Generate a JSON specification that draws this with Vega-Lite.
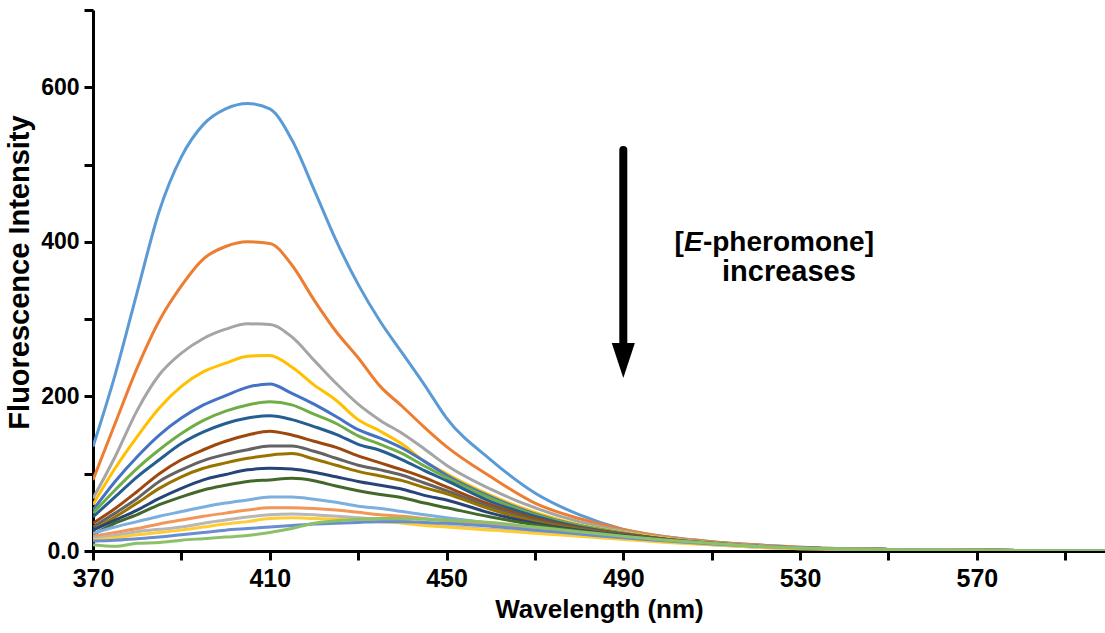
{
"$schema": "https://vega.github.io/schema/vega-lite/v6.json",
"width": 1012, "height": 541,
"autosize": {"type": "none"},
"padding": {"left": 93, "top": 10, "right": 0, "bottom": 82},
"background": "white",
"config": {"view": {"stroke": null}, "font": "Liberation Sans"},
"data": {"values": [
{"s":"s01","x":370,"y":135},{"s":"s01","x":375,"y":228},{"s":"s01","x":380,"y":335},{"s":"s01","x":385,"y":440},{"s":"s01","x":390,"y":510},{"s":"s01","x":395,"y":552},{"s":"s01","x":400,"y":572},{"s":"s01","x":405,"y":579},{"s":"s01","x":410,"y":572},{"s":"s01","x":415,"y":532},{"s":"s01","x":420,"y":468},{"s":"s01","x":425,"y":402},{"s":"s01","x":430,"y":345},{"s":"s01","x":435,"y":297},{"s":"s01","x":440,"y":256},{"s":"s01","x":445,"y":215},{"s":"s01","x":450,"y":172},{"s":"s01","x":460,"y":118},{"s":"s01","x":470,"y":75},{"s":"s01","x":480,"y":47},{"s":"s01","x":490,"y":28},{"s":"s01","x":500,"y":18},{"s":"s01","x":510,"y":12},{"s":"s01","x":520,"y":8},{"s":"s01","x":530,"y":5},{"s":"s01","x":550,"y":2},{"s":"s01","x":570,"y":1},{"s":"s01","x":600,"y":0},
{"s":"s02","x":370,"y":92},{"s":"s02","x":375,"y":165},{"s":"s02","x":380,"y":237},{"s":"s02","x":385,"y":298},{"s":"s02","x":390,"y":343},{"s":"s02","x":395,"y":378},{"s":"s02","x":400,"y":394},{"s":"s02","x":405,"y":400},{"s":"s02","x":410,"y":398},{"s":"s02","x":415,"y":370},{"s":"s02","x":420,"y":325},{"s":"s02","x":425,"y":284},{"s":"s02","x":430,"y":250},{"s":"s02","x":435,"y":213},{"s":"s02","x":440,"y":187},{"s":"s02","x":445,"y":160},{"s":"s02","x":450,"y":135},{"s":"s02","x":460,"y":96},{"s":"s02","x":470,"y":62},{"s":"s02","x":480,"y":42},{"s":"s02","x":490,"y":28},{"s":"s02","x":500,"y":18},{"s":"s02","x":510,"y":12},{"s":"s02","x":520,"y":8},{"s":"s02","x":530,"y":5},{"s":"s02","x":550,"y":2},{"s":"s02","x":570,"y":1},{"s":"s02","x":600,"y":0},
{"s":"s03","x":370,"y":68},{"s":"s03","x":375,"y":122},{"s":"s03","x":380,"y":182},{"s":"s03","x":385,"y":228},{"s":"s03","x":390,"y":256},{"s":"s03","x":395,"y":275},{"s":"s03","x":400,"y":287},{"s":"s03","x":405,"y":294},{"s":"s03","x":410,"y":293},{"s":"s03","x":415,"y":277},{"s":"s03","x":420,"y":247},{"s":"s03","x":425,"y":217},{"s":"s03","x":430,"y":190},{"s":"s03","x":435,"y":169},{"s":"s03","x":440,"y":152},{"s":"s03","x":445,"y":132},{"s":"s03","x":450,"y":111},{"s":"s03","x":460,"y":80},{"s":"s03","x":470,"y":56},{"s":"s03","x":480,"y":38},{"s":"s03","x":490,"y":26},{"s":"s03","x":500,"y":17},{"s":"s03","x":510,"y":11},{"s":"s03","x":520,"y":7},{"s":"s03","x":530,"y":4},{"s":"s03","x":550,"y":2},{"s":"s03","x":570,"y":1},{"s":"s03","x":600,"y":0},
{"s":"s04","x":370,"y":60},{"s":"s04","x":375,"y":107},{"s":"s04","x":380,"y":148},{"s":"s04","x":385,"y":185},{"s":"s04","x":390,"y":213},{"s":"s04","x":395,"y":232},{"s":"s04","x":400,"y":243},{"s":"s04","x":405,"y":252},{"s":"s04","x":410,"y":253},{"s":"s04","x":415,"y":238},{"s":"s04","x":420,"y":215},{"s":"s04","x":425,"y":195},{"s":"s04","x":430,"y":170},{"s":"s04","x":435,"y":155},{"s":"s04","x":440,"y":138},{"s":"s04","x":445,"y":116},{"s":"s04","x":450,"y":100},{"s":"s04","x":460,"y":72},{"s":"s04","x":470,"y":50},{"s":"s04","x":480,"y":34},{"s":"s04","x":490,"y":24},{"s":"s04","x":500,"y":16},{"s":"s04","x":510,"y":10},{"s":"s04","x":520,"y":6},{"s":"s04","x":530,"y":4},{"s":"s04","x":550,"y":2},{"s":"s04","x":570,"y":1},{"s":"s04","x":600,"y":0},
{"s":"s05","x":370,"y":53},{"s":"s05","x":375,"y":90},{"s":"s05","x":380,"y":122},{"s":"s05","x":385,"y":150},{"s":"s05","x":390,"y":172},{"s":"s05","x":395,"y":189},{"s":"s05","x":400,"y":201},{"s":"s05","x":405,"y":212},{"s":"s05","x":410,"y":216},{"s":"s05","x":415,"y":204},{"s":"s05","x":420,"y":190},{"s":"s05","x":425,"y":174},{"s":"s05","x":430,"y":157},{"s":"s05","x":435,"y":146},{"s":"s05","x":440,"y":133},{"s":"s05","x":445,"y":116},{"s":"s05","x":450,"y":98},{"s":"s05","x":460,"y":70},{"s":"s05","x":470,"y":48},{"s":"s05","x":480,"y":33},{"s":"s05","x":490,"y":23},{"s":"s05","x":500,"y":15},{"s":"s05","x":510,"y":10},{"s":"s05","x":520,"y":6},{"s":"s05","x":530,"y":4},{"s":"s05","x":550,"y":2},{"s":"s05","x":570,"y":1},{"s":"s05","x":600,"y":0},
{"s":"s06","x":370,"y":49},{"s":"s06","x":375,"y":79},{"s":"s06","x":380,"y":107},{"s":"s06","x":385,"y":131},{"s":"s06","x":390,"y":152},{"s":"s06","x":395,"y":169},{"s":"s06","x":400,"y":181},{"s":"s06","x":405,"y":189},{"s":"s06","x":410,"y":193},{"s":"s06","x":415,"y":189},{"s":"s06","x":420,"y":177},{"s":"s06","x":425,"y":165},{"s":"s06","x":430,"y":149},{"s":"s06","x":435,"y":138},{"s":"s06","x":440,"y":126},{"s":"s06","x":445,"y":110},{"s":"s06","x":450,"y":95},{"s":"s06","x":460,"y":68},{"s":"s06","x":470,"y":47},{"s":"s06","x":480,"y":33},{"s":"s06","x":490,"y":23},{"s":"s06","x":500,"y":15},{"s":"s06","x":510,"y":10},{"s":"s06","x":520,"y":6},{"s":"s06","x":530,"y":4},{"s":"s06","x":550,"y":2},{"s":"s06","x":570,"y":1},{"s":"s06","x":600,"y":0},
{"s":"s07","x":370,"y":44},{"s":"s07","x":375,"y":70},{"s":"s07","x":380,"y":96},{"s":"s07","x":385,"y":118},{"s":"s07","x":390,"y":139},{"s":"s07","x":395,"y":154},{"s":"s07","x":400,"y":165},{"s":"s07","x":405,"y":172},{"s":"s07","x":410,"y":175},{"s":"s07","x":415,"y":170},{"s":"s07","x":420,"y":161},{"s":"s07","x":425,"y":151},{"s":"s07","x":430,"y":138},{"s":"s07","x":435,"y":130},{"s":"s07","x":440,"y":118},{"s":"s07","x":445,"y":104},{"s":"s07","x":450,"y":91},{"s":"s07","x":460,"y":64},{"s":"s07","x":470,"y":45},{"s":"s07","x":480,"y":31},{"s":"s07","x":490,"y":22},{"s":"s07","x":500,"y":15},{"s":"s07","x":510,"y":10},{"s":"s07","x":520,"y":6},{"s":"s07","x":530,"y":4},{"s":"s07","x":550,"y":2},{"s":"s07","x":570,"y":1},{"s":"s07","x":600,"y":0},
{"s":"s08","x":370,"y":36},{"s":"s08","x":375,"y":55},{"s":"s08","x":380,"y":77},{"s":"s08","x":385,"y":100},{"s":"s08","x":390,"y":118},{"s":"s08","x":395,"y":131},{"s":"s08","x":400,"y":142},{"s":"s08","x":405,"y":150},{"s":"s08","x":410,"y":155},{"s":"s08","x":415,"y":150},{"s":"s08","x":420,"y":142},{"s":"s08","x":425,"y":134},{"s":"s08","x":430,"y":123},{"s":"s08","x":435,"y":114},{"s":"s08","x":440,"y":105},{"s":"s08","x":445,"y":95},{"s":"s08","x":450,"y":83},{"s":"s08","x":460,"y":60},{"s":"s08","x":470,"y":42},{"s":"s08","x":480,"y":30},{"s":"s08","x":490,"y":22},{"s":"s08","x":500,"y":15},{"s":"s08","x":510,"y":10},{"s":"s08","x":520,"y":6},{"s":"s08","x":530,"y":4},{"s":"s08","x":550,"y":2},{"s":"s08","x":570,"y":1},{"s":"s08","x":600,"y":0},
{"s":"s09","x":370,"y":31},{"s":"s09","x":375,"y":49},{"s":"s09","x":380,"y":68},{"s":"s09","x":385,"y":90},{"s":"s09","x":390,"y":105},{"s":"s09","x":395,"y":117},{"s":"s09","x":400,"y":125},{"s":"s09","x":405,"y":131},{"s":"s09","x":410,"y":136},{"s":"s09","x":415,"y":136},{"s":"s09","x":420,"y":129},{"s":"s09","x":425,"y":120},{"s":"s09","x":430,"y":111},{"s":"s09","x":435,"y":105},{"s":"s09","x":440,"y":98},{"s":"s09","x":445,"y":88},{"s":"s09","x":450,"y":78},{"s":"s09","x":460,"y":57},{"s":"s09","x":470,"y":40},{"s":"s09","x":480,"y":29},{"s":"s09","x":490,"y":21},{"s":"s09","x":500,"y":14},{"s":"s09","x":510,"y":9},{"s":"s09","x":520,"y":6},{"s":"s09","x":530,"y":4},{"s":"s09","x":550,"y":2},{"s":"s09","x":570,"y":1},{"s":"s09","x":600,"y":0},
{"s":"s10","x":370,"y":27},{"s":"s10","x":375,"y":44},{"s":"s10","x":380,"y":62},{"s":"s10","x":385,"y":81},{"s":"s10","x":390,"y":96},{"s":"s10","x":395,"y":107},{"s":"s10","x":400,"y":114},{"s":"s10","x":405,"y":120},{"s":"s10","x":410,"y":124},{"s":"s10","x":415,"y":126},{"s":"s10","x":420,"y":119},{"s":"s10","x":425,"y":111},{"s":"s10","x":430,"y":103},{"s":"s10","x":435,"y":97},{"s":"s10","x":440,"y":91},{"s":"s10","x":445,"y":82},{"s":"s10","x":450,"y":74},{"s":"s10","x":460,"y":54},{"s":"s10","x":470,"y":38},{"s":"s10","x":480,"y":28},{"s":"s10","x":490,"y":20},{"s":"s10","x":500,"y":14},{"s":"s10","x":510,"y":9},{"s":"s10","x":520,"y":6},{"s":"s10","x":530,"y":4},{"s":"s10","x":550,"y":2},{"s":"s10","x":570,"y":1},{"s":"s10","x":600,"y":0},
{"s":"s11","x":370,"y":27},{"s":"s11","x":375,"y":40},{"s":"s11","x":380,"y":53},{"s":"s11","x":385,"y":68},{"s":"s11","x":390,"y":81},{"s":"s11","x":395,"y":92},{"s":"s11","x":400,"y":99},{"s":"s11","x":405,"y":105},{"s":"s11","x":410,"y":107},{"s":"s11","x":415,"y":106},{"s":"s11","x":420,"y":102},{"s":"s11","x":425,"y":96},{"s":"s11","x":430,"y":90},{"s":"s11","x":435,"y":85},{"s":"s11","x":440,"y":80},{"s":"s11","x":445,"y":72},{"s":"s11","x":450,"y":66},{"s":"s11","x":460,"y":49},{"s":"s11","x":470,"y":36},{"s":"s11","x":480,"y":27},{"s":"s11","x":490,"y":20},{"s":"s11","x":500,"y":14},{"s":"s11","x":510,"y":9},{"s":"s11","x":520,"y":6},{"s":"s11","x":530,"y":4},{"s":"s11","x":550,"y":2},{"s":"s11","x":570,"y":1},{"s":"s11","x":600,"y":0},
{"s":"s12","x":370,"y":21},{"s":"s12","x":375,"y":36},{"s":"s12","x":380,"y":47},{"s":"s12","x":385,"y":60},{"s":"s12","x":390,"y":70},{"s":"s12","x":395,"y":79},{"s":"s12","x":400,"y":85},{"s":"s12","x":405,"y":90},{"s":"s12","x":410,"y":92},{"s":"s12","x":415,"y":94},{"s":"s12","x":420,"y":91},{"s":"s12","x":425,"y":84},{"s":"s12","x":430,"y":78},{"s":"s12","x":435,"y":73},{"s":"s12","x":440,"y":69},{"s":"s12","x":445,"y":62},{"s":"s12","x":450,"y":56},{"s":"s12","x":460,"y":44},{"s":"s12","x":470,"y":34},{"s":"s12","x":480,"y":26},{"s":"s12","x":490,"y":19},{"s":"s12","x":500,"y":13},{"s":"s12","x":510,"y":9},{"s":"s12","x":520,"y":6},{"s":"s12","x":530,"y":4},{"s":"s12","x":550,"y":2},{"s":"s12","x":570,"y":1},{"s":"s12","x":600,"y":0},
{"s":"s13","x":370,"y":23},{"s":"s13","x":375,"y":31},{"s":"s13","x":380,"y":38},{"s":"s13","x":385,"y":45},{"s":"s13","x":390,"y":51},{"s":"s13","x":395,"y":57},{"s":"s13","x":400,"y":62},{"s":"s13","x":405,"y":66},{"s":"s13","x":410,"y":70},{"s":"s13","x":415,"y":70},{"s":"s13","x":420,"y":67},{"s":"s13","x":425,"y":63},{"s":"s13","x":430,"y":58},{"s":"s13","x":435,"y":55},{"s":"s13","x":440,"y":51},{"s":"s13","x":445,"y":47},{"s":"s13","x":450,"y":43},{"s":"s13","x":460,"y":36},{"s":"s13","x":470,"y":30},{"s":"s13","x":480,"y":24},{"s":"s13","x":490,"y":18},{"s":"s13","x":500,"y":13},{"s":"s13","x":510,"y":9},{"s":"s13","x":520,"y":6},{"s":"s13","x":530,"y":4},{"s":"s13","x":550,"y":2},{"s":"s13","x":570,"y":1},{"s":"s13","x":600,"y":0},
{"s":"s14","x":370,"y":19},{"s":"s14","x":375,"y":24},{"s":"s14","x":380,"y":29},{"s":"s14","x":385,"y":35},{"s":"s14","x":390,"y":40},{"s":"s14","x":395,"y":45},{"s":"s14","x":400,"y":49},{"s":"s14","x":405,"y":53},{"s":"s14","x":410,"y":56},{"s":"s14","x":415,"y":56},{"s":"s14","x":420,"y":55},{"s":"s14","x":425,"y":53},{"s":"s14","x":430,"y":50},{"s":"s14","x":435,"y":47},{"s":"s14","x":440,"y":45},{"s":"s14","x":445,"y":42},{"s":"s14","x":450,"y":39},{"s":"s14","x":460,"y":33},{"s":"s14","x":470,"y":28},{"s":"s14","x":480,"y":23},{"s":"s14","x":490,"y":18},{"s":"s14","x":500,"y":13},{"s":"s14","x":510,"y":9},{"s":"s14","x":520,"y":6},{"s":"s14","x":530,"y":4},{"s":"s14","x":550,"y":2},{"s":"s14","x":570,"y":1},{"s":"s14","x":600,"y":0},
{"s":"s15","x":370,"y":16},{"s":"s15","x":375,"y":20},{"s":"s15","x":380,"y":25},{"s":"s15","x":385,"y":28},{"s":"s15","x":390,"y":31},{"s":"s15","x":395,"y":36},{"s":"s15","x":400,"y":40},{"s":"s15","x":405,"y":44},{"s":"s15","x":410,"y":47},{"s":"s15","x":415,"y":48},{"s":"s15","x":420,"y":47},{"s":"s15","x":425,"y":45},{"s":"s15","x":430,"y":43},{"s":"s15","x":435,"y":41},{"s":"s15","x":440,"y":39},{"s":"s15","x":445,"y":35},{"s":"s15","x":450,"y":32},{"s":"s15","x":460,"y":28},{"s":"s15","x":470,"y":24},{"s":"s15","x":480,"y":20},{"s":"s15","x":490,"y":16},{"s":"s15","x":500,"y":12},{"s":"s15","x":510,"y":8},{"s":"s15","x":520,"y":5},{"s":"s15","x":530,"y":3},{"s":"s15","x":550,"y":2},{"s":"s15","x":570,"y":1},{"s":"s15","x":600,"y":0},
{"s":"s16","x":370,"y":14},{"s":"s16","x":375,"y":17},{"s":"s16","x":380,"y":21},{"s":"s16","x":385,"y":24},{"s":"s16","x":390,"y":27},{"s":"s16","x":395,"y":31},{"s":"s16","x":400,"y":35},{"s":"s16","x":405,"y":38},{"s":"s16","x":410,"y":42},{"s":"s16","x":415,"y":43},{"s":"s16","x":420,"y":42},{"s":"s16","x":425,"y":41},{"s":"s16","x":430,"y":40},{"s":"s16","x":435,"y":38},{"s":"s16","x":440,"y":36},{"s":"s16","x":445,"y":33},{"s":"s16","x":450,"y":31},{"s":"s16","x":460,"y":27},{"s":"s16","x":470,"y":23},{"s":"s16","x":480,"y":19},{"s":"s16","x":490,"y":15},{"s":"s16","x":500,"y":11},{"s":"s16","x":510,"y":8},{"s":"s16","x":520,"y":5},{"s":"s16","x":530,"y":3},{"s":"s16","x":550,"y":2},{"s":"s16","x":570,"y":1},{"s":"s16","x":600,"y":0},
{"s":"s17","x":370,"y":13},{"s":"s17","x":375,"y":14},{"s":"s17","x":380,"y":16},{"s":"s17","x":385,"y":18},{"s":"s17","x":390,"y":21},{"s":"s17","x":395,"y":24},{"s":"s17","x":400,"y":27},{"s":"s17","x":405,"y":29},{"s":"s17","x":410,"y":31},{"s":"s17","x":415,"y":33},{"s":"s17","x":420,"y":35},{"s":"s17","x":425,"y":36},{"s":"s17","x":430,"y":37},{"s":"s17","x":435,"y":38},{"s":"s17","x":440,"y":38},{"s":"s17","x":445,"y":37},{"s":"s17","x":450,"y":36},{"s":"s17","x":460,"y":32},{"s":"s17","x":470,"y":27},{"s":"s17","x":480,"y":22},{"s":"s17","x":490,"y":17},{"s":"s17","x":500,"y":13},{"s":"s17","x":510,"y":9},{"s":"s17","x":520,"y":6},{"s":"s17","x":530,"y":4},{"s":"s17","x":550,"y":2},{"s":"s17","x":570,"y":1},{"s":"s17","x":600,"y":0},
{"s":"s18","x":370,"y":8},{"s":"s18","x":375,"y":6},{"s":"s18","x":380,"y":10},{"s":"s18","x":385,"y":11},{"s":"s18","x":390,"y":14},{"s":"s18","x":395,"y":16},{"s":"s18","x":400,"y":18},{"s":"s18","x":405,"y":20},{"s":"s18","x":410,"y":24},{"s":"s18","x":415,"y":29},{"s":"s18","x":420,"y":36},{"s":"s18","x":425,"y":39},{"s":"s18","x":430,"y":41},{"s":"s18","x":435,"y":42},{"s":"s18","x":440,"y":42},{"s":"s18","x":445,"y":41},{"s":"s18","x":450,"y":40},{"s":"s18","x":460,"y":37},{"s":"s18","x":470,"y":31},{"s":"s18","x":480,"y":25},{"s":"s18","x":490,"y":19},{"s":"s18","x":500,"y":14},{"s":"s18","x":510,"y":10},{"s":"s18","x":520,"y":6},{"s":"s18","x":530,"y":4},{"s":"s18","x":550,"y":2},{"s":"s18","x":570,"y":1},{"s":"s18","x":600,"y":0}
]},
"layer": [
{"mark": {"type": "line", "strokeWidth": 3, "interpolate": "monotone", "clip": true},
 "encoding": {
  "x": {"field": "x", "type": "quantitative", "scale": {"domain": [370, 599], "nice": false, "zero": false},
   "axis": {"values": [370,390,410,430,450,470,490,510,530,550,570,590], "labelExpr": "(datum.value-370)%40==0 ? datum.label : ''", "title": "Wavelength (nm)", "grid": false, "domainWidth": 3, "domainColor": "black", "tickWidth": 3, "tickSize": 9, "tickColor": "black", "labelFontSize": 25, "labelFontWeight": "bold", "labelColor": "black", "labelPadding": 6, "labelFlush": false, "labelOverlap": false, "titleFontSize": 26, "titleFontWeight": "bold", "titleColor": "black", "titlePadding": 5}},
  "y": {"field": "y", "type": "quantitative", "scale": {"domain": [0, 700], "nice": false},
   "axis": {"values": [0,100,200,300,400,500,600,700], "labelExpr": "datum.value==0 ? '0.0' : (datum.value%200==0 ? datum.label : '')", "title": "Fluorescence Intensity", "grid": false, "domainWidth": 3, "domainColor": "black", "tickWidth": 3, "tickSize": 9, "tickColor": "black", "labelFontSize": 23, "labelFontWeight": "bold", "labelColor": "black", "labelPadding": 5, "labelOverlap": false, "titleFontSize": 29, "titleFontWeight": "bold", "titleColor": "black", "titlePadding": 6, "titleY": 262}},
  "color": {"field": "s", "type": "nominal", "legend": null,
   "scale": {"domain": ["s01","s02","s03","s04","s05","s06","s07","s08","s09","s10","s11","s12","s13","s14","s15","s16","s17","s18"],
    "range": ["#5B9BD5","#ED7D31","#A5A5A5","#FFC000","#4472C4","#70AD47","#255E91","#9E480E","#636363","#997300","#264478","#43682B","#7CAFDD","#F1975A","#B7B7B7","#FFCD33","#698ED0","#8CC168"]}}
 }},
{"data": {"values": [{}]}, "mark": {"type": "rule", "strokeWidth": 8, "strokeCap": "round", "color": "black"},
 "encoding": {"x": {"datum": 490}, "y": {"datum": 519}, "y2": {"datum": 268}}},
{"data": {"values": [{}]}, "mark": {"type": "point", "shape": "M-0.66,-1L0.66,-1L0,1Z", "size": 1225, "filled": true, "color": "black", "opacity": 1, "strokeWidth": 0},
 "encoding": {"x": {"datum": 490}, "y": {"datum": 246.5}}},
{"data": {"values": [{}]}, "mark": {"type": "text", "text": "[", "align": "right", "baseline": "middle", "dx": -87, "fontSize": 28, "fontWeight": "bold", "color": "black"},
 "encoding": {"x": {"datum": 523.4}, "y": {"datum": 398.5}}},
{"data": {"values": [{}]}, "mark": {"type": "text", "text": "E", "align": "left", "baseline": "middle", "dx": -87, "fontSize": 28, "fontWeight": "bold", "fontStyle": "italic", "color": "black"},
 "encoding": {"x": {"datum": 523.4}, "y": {"datum": 398.5}}},
{"data": {"values": [{}]}, "mark": {"type": "text", "text": "-pheromone]", "align": "left", "baseline": "middle", "dx": -68, "fontSize": 28, "fontWeight": "bold", "color": "black"},
 "encoding": {"x": {"datum": 523.4}, "y": {"datum": 398.5}}},
{"data": {"values": [{}]}, "mark": {"type": "text", "text": "increases", "align": "center", "baseline": "middle", "dx": 18, "fontSize": 29, "fontWeight": "bold", "color": "black"},
 "encoding": {"x": {"datum": 523.4}, "y": {"datum": 361}}}
]
}
